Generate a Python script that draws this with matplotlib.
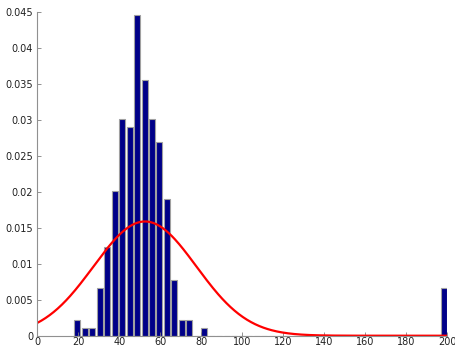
import numpy as np
import matplotlib
matplotlib.use("Agg")
import matplotlib.pyplot as plt

# histogram: 50 bins between the sample min and max (density values)
x_min = 17.6
x_max = 200.2
density = [0.0022, 0.0011, 0.0011, 0.0067, 0.0123, 0.0202, 0.0301, 0.0290, 0.0446, 0.0356,
           0.0301, 0.0269, 0.0190, 0.0078, 0.0022, 0.0022, 0.0, 0.0011, 0.0, 0.0,
           0.0, 0.0, 0.0, 0.0, 0.0, 0.0, 0.0, 0.0, 0.0, 0.0,
           0.0, 0.0, 0.0, 0.0, 0.0, 0.0, 0.0, 0.0, 0.0, 0.0,
           0.0, 0.0, 0.0, 0.0, 0.0, 0.0, 0.0, 0.0, 0.0, 0.0067]

# fitted normal curve
mu = 52.5
sigma = 25.1

xticks = list(range(0, 201, 20))
yticks = [0, 0.005, 0.01, 0.015, 0.02, 0.025, 0.03, 0.035, 0.04, 0.045]
ytick_labels = ["0", "0.005", "0.01", "0.015", "0.02", "0.025", "0.03", "0.035", "0.04", "0.045"]

edges = np.linspace(x_min, x_max, len(density) + 1)
centers = (edges[:-1] + edges[1:]) / 2
bw = edges[1] - edges[0]

fig = plt.figure(figsize=(4.56, 3.48), dpi=100)
ax = fig.add_axes([0.0818, 0.0353, 0.8992, 0.9294])

ax.bar(centers, density, width=bw * 0.8, color="#000088", edgecolor="#a0a0a0", linewidth=0.8)

xs = np.linspace(0, 200, 400)
pdf = np.exp(-(xs - mu) ** 2 / (2 * sigma ** 2)) / (sigma * np.sqrt(2 * np.pi))
ax.plot(xs, pdf, color="red", linewidth=1.6)

ax.set_xlim(0, 200)
ax.set_ylim(0, 0.045)
ax.set_xticks(xticks)
ax.set_yticks(yticks)
ax.set_yticklabels(ytick_labels)
ax.tick_params(direction="in", length=3, width=0.6, color="#808080", labelsize=7, labelcolor="#202020")
ax.tick_params(axis="x", pad=1)
ax.tick_params(axis="y", pad=3)

for s in ["top", "right"]:
    ax.spines[s].set_visible(False)
for s in ["left", "bottom"]:
    ax.spines[s].set_color("#909090")
    ax.spines[s].set_linewidth(0.8)

fig.savefig("out.png", dpi=100)
